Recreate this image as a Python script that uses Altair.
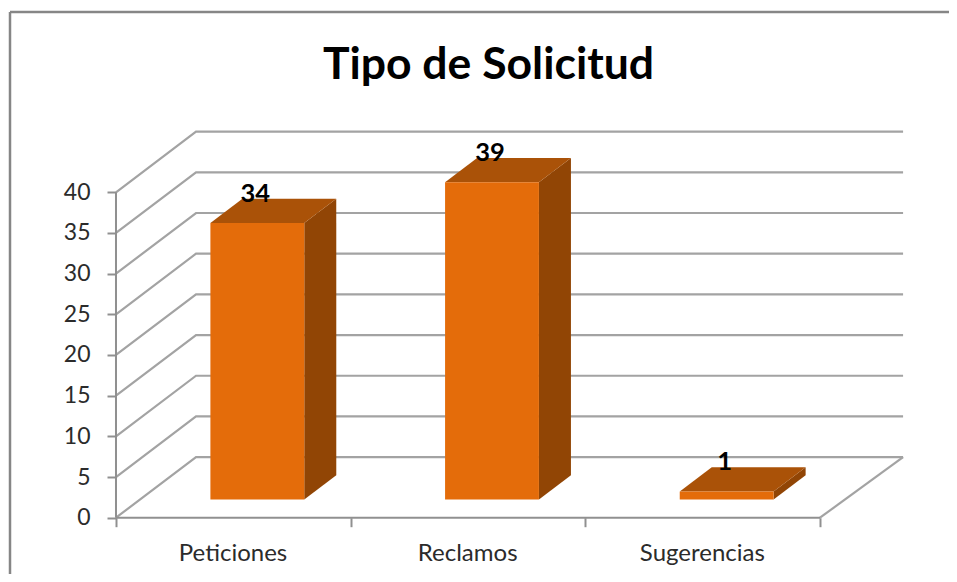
import altair as alt
import pandas as pd

# ---- values ----
categories = ["Peticiones", "Reclamos", "Sugerencias"]
values = [34, 39, 1]
y_ticks = [0, 5, 10, 15, 20, 25, 30, 35, 40]
x_ticks = [0, 1, 2, 3]
title_text = "Tipo de Solicitud"

# 3-D projection, in data units
BACK_X_LEFT = 0.341     # where the left wall meets the back wall
BACK_X_RIGHT = 3.354    # right end of the back wall
DEPTH_Y = 7.45          # rise of the floor from front to back
BAR_WIDTH = 0.40
BAR_FRONT = 0.30        # depth of the bars' front face
BAR_BACK = 0.70         # depth of the bars' back face
X_SHIFT = BACK_X_LEFT
# scale domains
X_DOMAIN = [-0.4602, 3.5497]
Y_DOMAIN = [-6.92, 62.65]

PLOT_W, PLOT_H = 941, 566
C_FRONT, C_TOP, C_SIDE = "#E46C0A", "#AA5208", "#914505"
C_GRID, C_AXIS, C_FRAME = "#A3A3A3", "#909090", "#868686"
FONT = "Lato"

x_s = alt.Scale(domain=X_DOMAIN, nice=False, zero=False)
y_s = alt.Scale(domain=Y_DOMAIN, nice=False, zero=False)
X = lambda f: alt.X(f"{f}:Q", scale=x_s, axis=None)
Y = lambda f: alt.Y(f"{f}:Q", scale=y_s, axis=None, stack=False)

# faces of the bars
front, side, top, labels = [], [], [], []
for i, (c, v) in enumerate(zip(categories, values)):
    x0 = i + 0.5 - BAR_WIDTH / 2 + BAR_FRONT * X_SHIFT
    x1 = x0 + BAR_WIDTH
    dx = (BAR_BACK - BAR_FRONT) * X_SHIFT
    b0 = BAR_FRONT * DEPTH_Y
    b1 = BAR_BACK * DEPTH_Y
    front.append(dict(c=c, x=x0, x2=x1, y=b0, y2=b0 + v))
    side += [dict(c=c, x=x1, y=b0, y2=b0 + v), dict(c=c, x=x1 + dx, y=b1, y2=b1 + v)]
    top += [
        dict(c=c, x=x0, y=b0 + v, y2=b0 + v),
        dict(c=c, x=x0 + dx, y=b0 + v, y2=b1 + v),
        dict(c=c, x=x1, y=b0 + v, y2=b1 + v),
        dict(c=c, x=x1 + dx, y=b1 + v, y2=b1 + v),
    ]
    labels.append(dict(c=c, x=(x0 + x1) / 2, y=b0 + v, t=str(v)))

# walls: sloped lines on the left wall, level lines on the back wall
wall = []
for v in y_ticks:
    wall += [dict(k=v, x=0, y=v), dict(k=v, x=BACK_X_LEFT, y=v + DEPTH_Y),
             dict(k=v, x=BACK_X_RIGHT, y=v + DEPTH_Y)]
floor_edge = pd.DataFrame([dict(x=3, y=0), dict(x=BACK_X_RIGHT, y=DEPTH_Y)])
ax_y = pd.DataFrame([dict(x=0, y=0, y2=max(y_ticks))])
ax_x = pd.DataFrame([dict(x=0, x2=3, y=0)])

expr = "datum.value == 0 ? '%s' : datum.value == 1 ? '%s' : datum.value == 2 ? '%s' : ''" % tuple(categories)

axes = alt.Chart(pd.DataFrame({"x": x_ticks, "y": [0, 0, 0, 0]})).mark_point(opacity=0).encode(
    x=alt.X("x:Q", scale=x_s, axis=alt.Axis(
        values=x_ticks, labelExpr=expr, labelOffset=116.5, labelOverlap=False, labelFlush=False,
        domain=False, grid=False, title=None, offset=-56.3, tickSize=9, tickWidth=2,
        tickColor=C_AXIS, labelFont=FONT, labelFontSize=24, labelColor="#2b2b2b", labelPadding=15)),
    y=alt.Y("y:Q", scale=y_s, axis=alt.Axis(
        values=y_ticks, domain=False, grid=False, title=None, offset=-108, tickSize=9, tickWidth=2,
        tickColor=C_AXIS, labelFont=FONT, labelFontSize=23, labelColor="#2b2b2b", labelPadding=17)),
)

grid = alt.Chart(pd.DataFrame(wall)).mark_line(color=C_GRID, strokeWidth=2.2).encode(
    x=X("x"), y=Y("y"), detail="k:N", order="x:Q")
edge = alt.Chart(floor_edge).mark_line(color=C_GRID, strokeWidth=2.2).encode(x=X("x"), y=Y("y"))
axis_v = alt.Chart(ax_y).mark_rule(color=C_AXIS, strokeWidth=2).encode(x=X("x"), y=Y("y"), y2="y2:Q")
axis_h = alt.Chart(ax_x).mark_rule(color=C_AXIS, strokeWidth=2).encode(x=X("x"), x2="x2:Q", y=Y("y"))

side_m = alt.Chart(pd.DataFrame(side)).mark_area(color=C_SIDE, orient="vertical").encode(
    x=X("x"), y=Y("y"), y2="y2:Q", detail="c:N")
top_m = alt.Chart(pd.DataFrame(top)).mark_area(color=C_TOP, orient="vertical").encode(
    x=X("x"), y=Y("y"), y2="y2:Q", detail="c:N")
front_m = alt.Chart(pd.DataFrame(front)).mark_rect(color=C_FRONT).encode(
    x=X("x"), x2="x2:Q", y=Y("y"), y2="y2:Q")
text_m = alt.Chart(pd.DataFrame(labels)).mark_text(
    font=FONT, fontWeight="bold", fontSize=25.5, color="#000000", dy=-29, dx=-2, baseline="middle"
).encode(x=X("x"), y=Y("y"), text="t:N")

frame_t = alt.Chart(pd.DataFrame({"a": [0]})).mark_rule(color=C_FRAME, strokeWidth=2.5).encode(
    x=alt.value(2), x2=alt.value(PLOT_W), y=alt.value(4))
frame_l = alt.Chart(pd.DataFrame({"a": [0]})).mark_rule(color=C_FRAME, strokeWidth=2.5).encode(
    x=alt.value(2), y=alt.value(4), y2=alt.value(PLOT_H))

chart = alt.layer(
    axes, frame_t, frame_l, grid, edge, axis_v, axis_h, side_m, top_m, front_m, text_m
).resolve_axis(x="independent", y="independent").properties(
    width=PLOT_W, height=PLOT_H,
    padding=0,
    autosize=alt.AutoSizeParams(type="none"),
    title=alt.TitleParams(title_text, font=FONT, fontWeight="bold", fontSize=44.5, color="#000000",
                          anchor="middle", dx=10, dy=84, frame="group"),
    background="white",
).configure_view(stroke=None)

chart.save("out.html", embed_options={"renderer": "svg", "actions": False})
